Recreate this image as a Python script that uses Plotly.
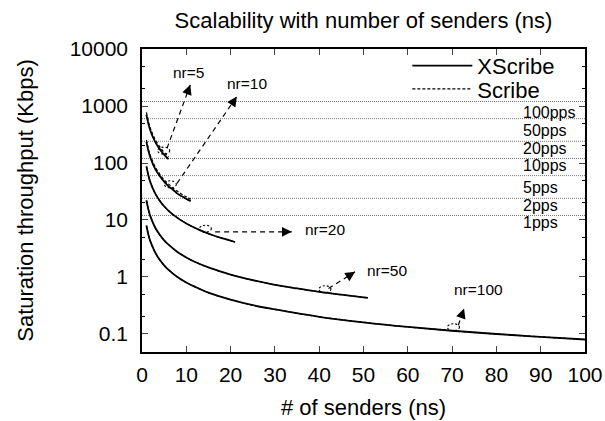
import math
import plotly.graph_objects as go

# ---------------- data ----------------
ns_nr5 = [1, 1.5, 2, 2.5, 3, 3.5, 4, 4.5, 5, 5.5, 6]
xscribe_nr5 = [700, 467, 350, 280, 233, 200, 175, 156, 140, 127, 117]
scribe_nr5 = [770, 515, 385, 308, 257, 220, 193, 172, 154, 140, 128]

ns_nr10 = [1, 1.5, 2, 3, 4, 5, 6, 7, 8, 9, 10, 11]
xscribe_nr10 = [235, 157, 118, 78, 59, 47, 39, 34, 29, 26, 23.5, 21.4]
scribe_nr10 = [255, 170, 128, 85, 64, 51, 42.5, 36.5, 32, 28.3, 25.5, 23.2]

ns_nr20 = [1, 1.5, 2, 3, 4, 5, 6, 8, 10, 12, 14, 16, 18, 20, 21]
xscribe_nr20 = [87, 58, 43.5, 29, 21.8, 17.4, 14.5, 10.9, 8.7, 7.25, 6.2, 5.4, 4.8, 4.35, 4.1]
scribe_nr20 = [87, 58, 43.5, 29, 21.8, 17.4, 14.5, 10.9, 8.7, 7.25, 6.2, 5.4, 4.8, 4.35, 4.1]

ns_nr50 = [1, 1.5, 2, 3, 4, 5, 6, 8, 10, 12, 15, 20, 25, 30, 35, 40, 45, 50, 51]
xscribe_nr50 = [22, 14.7, 11, 7.3, 5.5, 4.4, 3.7, 2.75, 2.2, 1.83, 1.47, 1.1, 0.88, 0.73,
                0.63, 0.55, 0.49, 0.44, 0.43]
scribe_nr50 = [22, 14.7, 11, 7.3, 5.5, 4.4, 3.7, 2.75, 2.2, 1.83, 1.47, 1.1, 0.88, 0.73,
               0.63, 0.55, 0.49, 0.44, 0.43]

ns_nr100 = [1, 1.5, 2, 3, 4, 5, 6, 8, 10, 12, 15, 20, 25, 30, 40, 50, 60, 70, 80, 90, 100]
xscribe_nr100 = [8, 5.3, 4, 2.67, 2, 1.6, 1.33, 1.0, 0.8, 0.67, 0.53, 0.4, 0.32, 0.27,
                 0.2, 0.16, 0.133, 0.114, 0.1, 0.089, 0.08]
scribe_nr100 = [8, 5.3, 4, 2.67, 2, 1.6, 1.33, 1.0, 0.8, 0.67, 0.53, 0.4, 0.32, 0.27,
                0.2, 0.16, 0.133, 0.114, 0.1, 0.089, 0.08]

pps_labels = ["100pps", "50pps", "20pps", "10pps", "5pps", "2pps", "1pps"]
pps_values = [1200, 600, 240, 120, 60, 24, 12]

nr_labels = ["nr=5", "nr=10", "nr=20", "nr=50", "nr=100"]
x_ticks = [0, 10, 20, 30, 40, 50, 60, 70, 80, 90, 100]
y_ticks = [0.1, 1, 10, 100, 1000, 10000]
y_tick_text = ["0.1", "1", "10", "100", "1000", "10000"]

# ---------------- layout helpers (positions / styles) ----------------
FONT = "Liberation Sans, Arial, sans-serif"
pps_label_x = 85.6
pps_label_shift = [-10.7, -11.7, -7.3, -7.4, -12, -7.4, -6.6]

# circled point, arrow tail, arrow tip, label position, arrowhead offset in px
nr_marks = [
    dict(pt=(4.9, 143), tail=(5.64, 10**2.258), tip=(10.9, 10**3.371), lab=(10.4, 10**3.582), off=(-2.4, 6.6)),
    dict(pt=(6.4, 36.7), tail=(7.9, 10**1.643), tip=(21.4, 10**3.165), lab=(23.7, 10**3.401), off=(-3.9, 5.8)),
    dict(pt=(14.3, 6.1), tail=(16.5, 10**0.793), tip=(33.8, 10**0.793), lab=(41.3, 10**0.84), off=(-7, 0)),
    dict(pt=(41.3, 0.53), tail=(42.1, 10**-0.202), tip=(48.1, 10**0.090), lab=(55.3, 10**0.119), off=(-5.9, 3.7)),
    dict(pt=(70.3, 0.114), tail=(71.4, 10**-0.847), tip=(72.7, 10**-0.554), lab=(75.9, 10**-0.220), off=(-2.3, 6.6)),
]

fig = go.Figure()

series = [
    (ns_nr5, xscribe_nr5, scribe_nr5),
    (ns_nr10, xscribe_nr10, scribe_nr10),
    (ns_nr20, xscribe_nr20, scribe_nr20),
    (ns_nr50, xscribe_nr50, scribe_nr50),
    (ns_nr100, xscribe_nr100, scribe_nr100),
]

for i, (xs, xsv, sv) in enumerate(series):
    fig.add_trace(go.Scatter(
        x=xs, y=xsv, mode="lines", name="XScribe", legend="legend",
        showlegend=(i == 0), line=dict(color="black", width=1.8, shape="spline"),
    ))
for i, (xs, xsv, sv) in enumerate(series):
    fig.add_trace(go.Scatter(
        x=xs, y=sv, mode="lines", name="Scribe", legend="legend2",
        showlegend=(i == 0), line=dict(color="black", width=1.2, dash="3px,2px", shape="spline"),
    ))

shapes = []
annotations = []

# pps reference lines and labels
for lab, val, sh in zip(pps_labels, pps_values, pps_label_shift):
    shapes.append(dict(type="line", xref="x domain", yref="y", x0=0, x1=1, y0=val, y1=val,
                       line=dict(color="#777777", width=1, dash="1px,1px"), layer="below"))
    annotations.append(dict(x=pps_label_x, y=math.log10(val), xref="x", yref="y", text=lab,
                            showarrow=False, xanchor="left", yanchor="middle", yshift=sh,
                            font=dict(family=FONT, size=16, color="black")))

# circled points with dashed arrows and labels
for lab, m in zip(nr_labels, nr_marks):
    shapes.append(dict(type="circle", xref="x", yref="y", xsizemode="pixel", ysizemode="pixel",
                       xanchor=m["pt"][0], yanchor=m["pt"][1], x0=-6, x1=6, y0=-7, y1=7,
                       line=dict(color="black", width=1.1, dash="2px,2px")))
    shapes.append(dict(type="line", xref="x", yref="y", x0=m["tail"][0], y0=m["tail"][1],
                       x1=m["tip"][0], y1=m["tip"][1],
                       line=dict(color="black", width=1.2, dash="5px,4px")))
    annotations.append(dict(x=m["tip"][0], y=math.log10(m["tip"][1]), xref="x", yref="y",
                            ax=m["off"][0], ay=m["off"][1], text="", showarrow=True,
                            arrowhead=2, arrowsize=1.5, arrowwidth=1.3, arrowcolor="black"))
    annotations.append(dict(x=m["lab"][0], y=math.log10(m["lab"][1]), xref="x", yref="y",
                            text=lab, showarrow=False, xanchor="center", yanchor="middle",
                            font=dict(family=FONT, size=15.5, color="black")))

legend_common = dict(xanchor="left", yanchor="middle", bgcolor="rgba(0,0,0,0)",
                     font=dict(size=22), borderwidth=0, itemwidth=60)
fig.update_layout(
    width=605, height=421,
    margin=dict(l=142, r=20, t=49, b=69, autoexpand=False),
    paper_bgcolor="white", plot_bgcolor="white",
    font=dict(family=FONT, size=21, color="black"),
    title=dict(text="Scalability with number of senders (ns)", x=0.5, xref="paper",
               y=1 - 20 / 421, yanchor="middle", font=dict(size=22)),
    showlegend=True,
    legend=dict(x=0.599, y=1 - (66 - 49.2) / 302.5, **legend_common),
    legend2=dict(x=0.599, y=1 - (89.3 - 49.2) / 302.5, **legend_common),
    shapes=shapes, annotations=annotations,
)

fig.update_xaxes(
    range=[0, 100], tickvals=x_ticks, ticks="inside", ticklen=6, tickwidth=1,
    showline=True, linecolor="black", linewidth=1.5, mirror="allticks",
    showgrid=False, zeroline=False, ticklabelstandoff=3, automargin=False,
    title=dict(text="# of senders (ns)", font=dict(size=22)),
)
minor_vals = []
for d in [0.01, 0.1, 1, 10, 100, 1000]:
    minor_vals += [2 * d, 5 * d]
fig.update_yaxes(
    type="log", range=[-1.316, 4.0], tickvals=y_ticks, ticktext=y_tick_text,
    ticks="inside", ticklen=6, tickwidth=1,
    minor=dict(tickvals=minor_vals, ticks="inside", ticklen=3, tickcolor="black"),
    showline=True, linecolor="black", linewidth=1.5, mirror="allticks",
    showgrid=False, zeroline=False, ticklabelstandoff=8, automargin=False,
    title=dict(text="Saturation throughput (Kbps)", font=dict(size=22), standoff=30),
)

fig.write_html("out.html")
